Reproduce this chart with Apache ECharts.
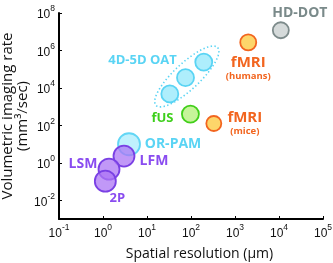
<!DOCTYPE html>
<html><head><meta charset="utf-8">
<script src="https://cdn.jsdelivr.net/npm/echarts@6/dist/echarts.min.js"></script>
<style>html,body{margin:0;padding:0;background:#fff}#c{width:333px;height:263px}</style>
</head><body><div id="c"></div>
<script>
// ---- data ----
const techniques = ['HD-DOT', 'fMRI (humans)', '4D-5D OAT', 'fUS', 'fMRI (mice)', 'OR-PAM', 'LFM', 'LSM', '2P'];
const resolutionUm = [[11000], [2000], [33, 75, 195], [97], [330], [3.9], [3.0], [1.37], [1.13]];
const imagingRate = [[1.2e7], [2.7e6], [4.8e3, 3.5e4, 2.4e5], [400], [126], [9.8], [2.3], [0.46], [0.105]];
const labelTexts = ['HD-DOT', '{a|fMRI}\n{b|(humans)}', '4D-5D OAT', 'fUS', '{a|fMRI}\n{b|(mice)}', 'OR-PAM', 'LFM', 'LSM', '2P'];
const xTickValues = [0.1, 1, 10, 100, 1000, 10000, 100000];
const yTickValues = [0.01, 1, 100, 10000, 1000000, 100000000];
const xTitle = 'Spatial resolution (µm)';
const yTitle = 'Volumetric imaging rate\n(mm³/sec)';

// ---- styles ----
const FONT = '"Open Sans", "Noto Sans", sans-serif';
const styles = [
  {fill: '#d5dada', stroke: '#7d8b8b', text: '#7a8a8a', size: 16, labelIdx: 0, offset: [19, -17], fs: 14},
  {fill: '#fdd66a', stroke: '#f2651f', text: '#f2651f', size: 16, labelIdx: 0, offset: [0, 26], fs: 15},
  {fill: '#aeeefc', stroke: '#5ad4f4', text: '#5ad4f4', size: 17, labelIdx: 1, offset: [-43, -17], fs: 13},
  {fill: '#c6f49a', stroke: '#41cf1a', text: '#3ecf1c', size: 17, labelIdx: 0, offset: [-28, 4], fs: 13},
  {fill: '#fdd66a', stroke: '#f2651f', text: '#f2651f', size: 15, labelIdx: 0, offset: [31, 0], fs: 15},
  {fill: 'rgba(170,236,252,0.75)', stroke: '#62d6f5', text: '#5ad4f4', size: 22, labelIdx: 0, offset: [44, 0], fs: 14},
  {fill: 'rgba(172,118,244,0.75)', stroke: '#7a40e4', text: '#8a4cf0', size: 21, labelIdx: 0, offset: [30, 5], fs: 14},
  {fill: 'rgba(172,118,244,0.75)', stroke: '#7a40e4', text: '#8a4cf0', size: 21, labelIdx: 0, offset: [-26, -5], fs: 14},
  {fill: 'rgba(172,118,244,0.75)', stroke: '#7a40e4', text: '#8a4cf0', size: 21, labelIdx: 0, offset: [12, 17], fs: 13}
];

const pow10Label = v => '{b|10}{s|' + Math.round(Math.log10(v)) + '}';
const tickRich = {
  b: {fontSize: 12, fontFamily: 'Liberation Sans, Arial, sans-serif', color: '#111', lineHeight: 21},
  s: {fontSize: 8.5, fontFamily: 'Liberation Sans, Arial, sans-serif', color: '#111', lineHeight: 9, verticalAlign: 'top'}
};

const series = techniques.map((name, i) => {
  const st = styles[i];
  return {
    type: 'scatter', name: name, symbol: 'circle', symbolSize: st.size, z: 3 + i,
    itemStyle: {color: st.fill, borderColor: st.stroke, borderWidth: 1.8, opacity: 1},
    data: resolutionUm[i].map((x, j) => ({
      value: [x, imagingRate[i][j]],
      label: j === st.labelIdx ? {
        show: true, position: 'inside', offset: st.offset, formatter: labelTexts[i],
        color: st.text, fontFamily: FONT, fontWeight: 'bold', fontSize: st.fs,
        rich: {
          a: {color: st.text, fontFamily: FONT, fontWeight: 'bold', fontSize: st.fs, lineHeight: 15, align: 'center'},
          b: {color: st.text, fontFamily: FONT, fontWeight: 'bold', fontSize: 9.5, lineHeight: 11, align: 'center'}
        }
      } : {show: false}
    })),
    emphasis: {disabled: true}
  };
});

// dotted ellipse around the OAT group, computed from the OAT data points
const oatIdx = 2;
series.push({
  type: 'custom', coordinateSystem: 'cartesian2d', silent: true, z: 2,
  data: [[resolutionUm[oatIdx][0], imagingRate[oatIdx][0], resolutionUm[oatIdx][2], imagingRate[oatIdx][2]]],
  encode: {x: [0, 2], y: [1, 3]},
  renderItem: function (params, api) {
    const p1 = api.coord([api.value(0), api.value(1)]);
    const p2 = api.coord([api.value(2), api.value(3)]);
    const cx = (p1[0] + p2[0]) / 2, cy = (p1[1] + p2[1]) / 2 - 1.5;
    const dx = p2[0] - p1[0], dy = p2[1] - p1[1];
    const rx = Math.hypot(dx, dy) / 2 + 19, ry = 13;
    const ang = Math.atan2(dy, dx);
    const pts = [];
    for (let k = 0; k < 90; k++) {
      const t = k / 90 * 2 * Math.PI;
      const ex = rx * Math.cos(t), ey = ry * Math.sin(t);
      pts.push([cx + ex * Math.cos(ang) - ey * Math.sin(ang), cy + ex * Math.sin(ang) + ey * Math.cos(ang)]);
    }
    return {type: 'polygon', shape: {points: pts}, style: {fill: 'none', stroke: '#5ad4f4', lineWidth: 1.6, lineDash: [1.4, 2.4]}};
  }
});

const chart = echarts.init(document.getElementById('c'), null, {renderer: 'canvas'});
chart.setOption({
  animation: false,
  backgroundColor: '#fff',
  grid: {left: 59, right: 10, top: 13, bottom: 44, containLabel: false, outerBoundsMode: 'none'},
  xAxis: {
    type: 'log', logBase: 10, min: 0.1, max: 100000,
    name: xTitle, nameLocation: 'middle', nameGap: 28, nameMoveOverlap: false,
    nameTextStyle: {fontFamily: FONT, fontSize: 14, color: '#111', padding: [0, 0, 0, 17]},
    axisLine: {lineStyle: {color: '#000', width: 2}},
    axisTick: {inside: true, length: 3, customValues: xTickValues, lineStyle: {color: '#000', width: 1}},
    axisLabel: {customValues: xTickValues, formatter: pow10Label, rich: tickRich, margin: 4, showMinLabel: true, showMaxLabel: true},
    splitLine: {show: false}
  },
  yAxis: {
    type: 'log', logBase: 10, min: 0.001, max: 100000000,
    name: yTitle, nameLocation: 'middle', nameGap: 29, nameRotate: 90, nameMoveOverlap: false,
    nameTextStyle: {fontFamily: FONT, fontSize: 15, color: '#111', lineHeight: 15},
    axisLine: {lineStyle: {color: '#000', width: 2}},
    axisTick: {inside: true, length: 3, customValues: yTickValues, lineStyle: {color: '#000', width: 1}},
    axisLabel: {customValues: yTickValues, formatter: pow10Label, rich: tickRich, margin: 4, padding: [4, 0, 0, 0], showMinLabel: true, showMaxLabel: true},
    splitLine: {show: false}
  },
  series: series
});
</script>
</body></html>
